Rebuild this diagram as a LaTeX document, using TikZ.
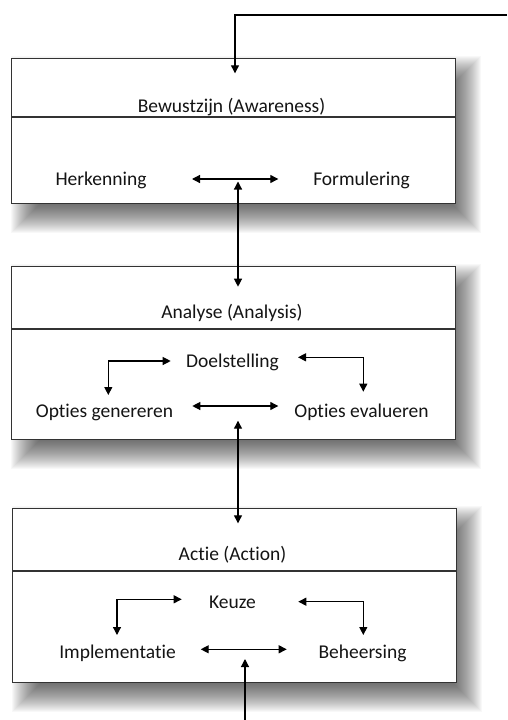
\documentclass[tikz,border=0pt]{standalone}
\usepackage{fontspec}
\setmainfont{Carlito}[Ligatures={NoCommon,NoContextual}]
\usetikzlibrary{arrows.meta}
\begin{document}
\begin{tikzpicture}[x=1pt,y=-1pt,
  box/.style={draw=black!80, line width=1.2pt, fill=white, rectangle, inner sep=0pt, anchor=north west},
  lbl/.style={font=\fontsize{19.5}{23}\selectfont, text=black!92, anchor=base, inner sep=0pt},
  arr/.style={line width=1.2pt, -{Triangle[length=8pt,width=8pt]}},
  dbl/.style={line width=1.2pt, {Triangle[length=8pt,width=8pt]}-{Triangle[length=8pt,width=8pt]}},
  divider/.style={draw=black!80, line width=1.2pt}]
\useasboundingbox (0,0) rectangle (507,720);
% shadows
\foreach \bx/\by/\ex/\ey in {11/58/455/203, 11/266/455/439, 12/508/456/682}{
  \foreach \r in {-14,...,16}{
    \fill[black, opacity=0.026] (\bx+16-\r, \by+14-\r) rectangle (\ex+10+\r, \ey+14+\r);
  }
}
% boxes
\node[box, minimum width=444pt, minimum height=145pt] (b1) at (11,58) {};
\node[box, minimum width=444pt, minimum height=173pt] (b2) at (11,266) {};
\node[box, minimum width=444pt, minimum height=174pt] (b3) at (12,508) {};
\coordinate (d1) at (0,117);
\coordinate (d2) at (0,329);
\coordinate (d3) at (0,571);
\draw[divider] (b1.west |- d1) -- (b1.east |- d1);
\draw[divider] (b2.west |- d2) -- (b2.east |- d2);
\draw[divider] (b3.west |- d3) -- (b3.east |- d3);
% texts
\node[lbl] (t1) at (231.5,112) {Bewustzijn (Awareness)};
\node[lbl] (herk) at (101,185) {Herkenning};
\node[lbl] (form) at (361.5,185) {Formulering};
\node[lbl] (t2) at (232,318) {Analyse (Analysis)};
\node[lbl] (doel) at (232.5,367) {Doelstelling};
\node[lbl] (gen) at (104.5,417) {Opties genereren};
\node[lbl] (eval) at (361.5,417) {Opties evalueren};
\node[lbl] (t3) at (232.5,560) {Actie (Action)};
\node[lbl] (keuze) at (232.5,608) {Keuze};
\node[lbl] (impl) at (117.5,658) {Implementatie};
\node[lbl] (beh) at (362.5,658) {Beheersing};
% connector end points
\coordinate (topin) at (507,15);
\coordinate (b1in) at (235,73.3);
\coordinate (h1l) at (192,179);
\coordinate (h1r) at (278.3,179);
\coordinate (v1a) at (238,181.5);
\coordinate (v1b) at (238,286.7);
\coordinate (h2l) at (192.3,406);
\coordinate (h2r) at (278.3,406);
\coordinate (l2a) at (108.3,395);
\coordinate (l2b) at (170.7,361);
\coordinate (r2a) at (298,357.3);
\coordinate (r2b) at (363.3,391.7);
\coordinate (v2a) at (238,420.7);
\coordinate (v2b) at (238,523.3);
\coordinate (h3l) at (200.7,649.3);
\coordinate (h3r) at (286.7,649.3);
\coordinate (l3a) at (117,635);
\coordinate (l3b) at (181.7,599.3);
\coordinate (r3a) at (298.3,601.7);
\coordinate (r3b) at (363.3,635);
\coordinate (botin) at (245,720);
\coordinate (b3out) at (245,659);
% connectors
\draw[arr] (topin) -| (b1in);
\draw[dbl] (h1l) -- (h1r);
\draw[dbl] (v1a) -- (v1b);
\draw[dbl] (h2l) -- (h2r);
\draw[dbl] (l2a) |- (l2b);
\draw[dbl] (r2a) -| (r2b);
\draw[dbl] (v2a) -- (v2b);
\draw[dbl] (h3l) -- (h3r);
\draw[dbl] (l3a) |- (l3b);
\draw[dbl] (r3a) -| (r3b);
\draw[arr] (botin) -- (b3out);
\end{tikzpicture}
\end{document}
